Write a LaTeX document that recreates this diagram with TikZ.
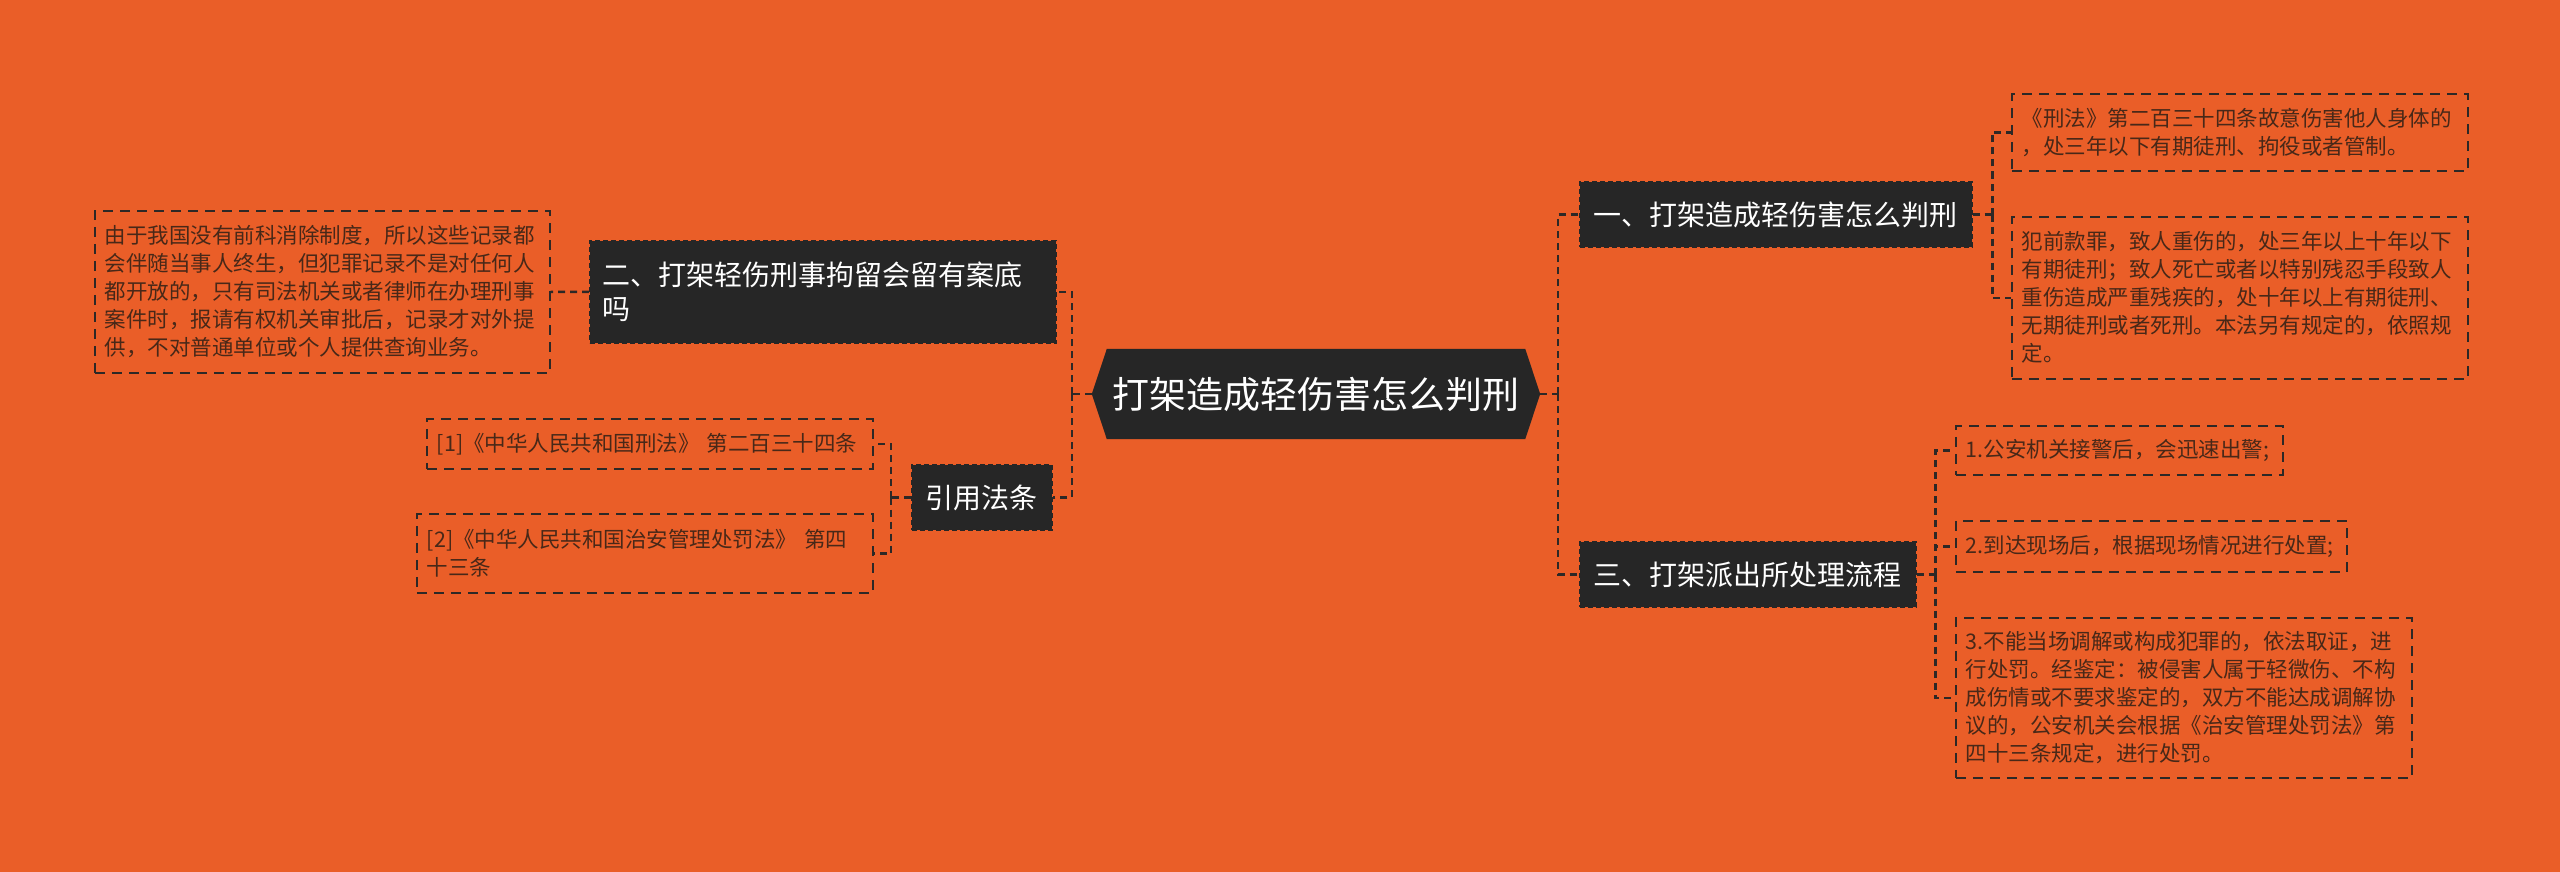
\documentclass[tikz,border=0pt]{standalone}
\usepackage{fontspec}
\setmainfont{Noto Sans CJK SC}
\usetikzlibrary{positioning,backgrounds}
\definecolor{bgorange}{RGB}{234,94,40}
\definecolor{boxdark}{RGB}{38,38,38}
\definecolor{leafink}{RGB}{72,40,24}
\definecolor{linkgray}{RGB}{45,40,38}

\begin{document}
\begin{tikzpicture}[
  x=1pt,y=-1pt,
  hub/.style={minimum width=448pt,minimum height=90pt,inner sep=0pt,text=white,
    font=\fontsize{37}{44}\selectfont},
  topic/.style={fill=boxdark,draw=boxdark,line width=1.5pt,dash pattern=on 5pt off 3pt,
    inner xsep=14pt,inner ysep=0pt,minimum height=65pt,text=white,align=left,
    font=\fontsize{28}{34}\selectfont},
  leaf/.style={draw=linkgray,line width=1.6pt,dash pattern=on 10pt off 7pt,
    inner xsep=10pt,inner ysep=0pt,text=leafink,align=left,anchor=north west,
    font=\fontsize{21.5}{28}\selectfont},
  link/.style={draw=linkgray,line width=2.5pt,dash pattern=on 7pt off 5pt}
]
  \useasboundingbox (0,0) rectangle (2560,872);

  \node[hub] (main) at (1316,394) {打架造成轻伤害怎么判刑};
  \begin{scope}[on background layer]
    \fill[bgorange] (0,0) rectangle (2560,872);
    \fill[boxdark] (main.west) -- ([xshift=15pt]main.north west) -- ([xshift=-15pt]main.north east)
      -- (main.east) -- ([xshift=-15pt]main.south east) -- ([xshift=15pt]main.south west) -- cycle;
  \end{scope}

  \node[topic,anchor=west] (sec1) at (1579,214.5) {一、打架造成轻伤害怎么判刑};
  \node[topic,anchor=west] (sec3) at (1579,574.5) {三、打架派出所处理流程};
  \node[topic,anchor=north west,text width=440pt,inner xsep=13pt,minimum height=102pt]
    (sec2) at (589,240) {二、打架轻伤刑事拘留会留有案底\\吗};
  \node[topic,anchor=west] (cite) at (911,497.5) {引用法条};

  \node[leaf,text width=436pt,minimum height=77pt] (d11) at (2011,93)
    {《刑法》第二百三十四条故意伤害他人身体的\\，处三年以下有期徒刑、拘役或者管制。};
  \node[leaf,text width=436pt,minimum height=162pt] (d12) at (2011,216)
    {犯前款罪，致人重伤的，处三年以上十年以下\\有期徒刑；致人死亡或者以特别残忍手段致人\\重伤造成严重残疾的，处十年以上有期徒刑、\\无期徒刑或者死刑。本法另有规定的，依照规\\定。};
  \node[leaf,text width=307pt,minimum height=49pt] (d31) at (1955,425)
    {1.公安机关接警后，会迅速出警;};
  \node[leaf,text width=371pt,minimum height=51pt] (d32) at (1955,520)
    {2.到达现场后，根据现场情况进行处置;};
  \node[leaf,text width=436pt,minimum height=160pt] (d33) at (1955,617)
    {3.不能当场调解或构成犯罪的，依法取证，进\\行处罚。经鉴定：被侵害人属于轻微伤、不构\\成伤情或不要求鉴定的，双方不能达成调解协\\议的，公安机关会根据《治安管理处罚法》第\\四十三条规定，进行处罚。};
  \node[leaf,text width=435pt,minimum height=162pt] (note) at (94,210)
    {由于我国没有前科消除制度，所以这些记录都\\会伴随当事人终生，但犯罪记录不是对任何人\\都开放的，只有司法机关或者律师在办理刑事\\案件时，报请有权机关审批后，记录才对外提\\供，不对普通单位或个人提供查询业务。};
  \node[leaf,text width=426pt,minimum height=50pt] (ref1) at (426,418)
    {[1]《中华人民共和国刑法》 第二百三十四条};
  \node[leaf,text width=436pt,minimum height=79pt] (ref2) at (416,513)
    {[2]《中华人民共和国治安管理处罚法》 第四\\十三条};

  \draw[link] (main.east) -- ++(18,0) coordinate (rtrunk);
  \draw[link] (rtrunk) |- (sec1.west);
  \draw[link] (rtrunk) |- (sec3.west);
  \draw[link] (main.west) -- ++(-20,0) coordinate (ltrunk);
  \draw[link] (ltrunk) |- (sec2.east);
  \draw[link] (ltrunk) |- (cite.east);

  \draw[link] (sec1.east) -- ++(20,0) coordinate (t1);
  \foreach \leafname in {d11,d12} \draw[link] (t1) |- (\leafname.west);
  \draw[link] (sec3.east) -- ++(19,0) coordinate (t3);
  \foreach \leafname in {d31,d32,d33} \draw[link] (t3) |- (\leafname.west);
  \draw[link] (cite.west) -- ++(-20,0) coordinate (tc);
  \foreach \leafname in {ref1,ref2} \draw[link] (tc) |- (\leafname.east);
  \draw[link] (sec2.west) -- (note.east);
\end{tikzpicture}
\end{document}
